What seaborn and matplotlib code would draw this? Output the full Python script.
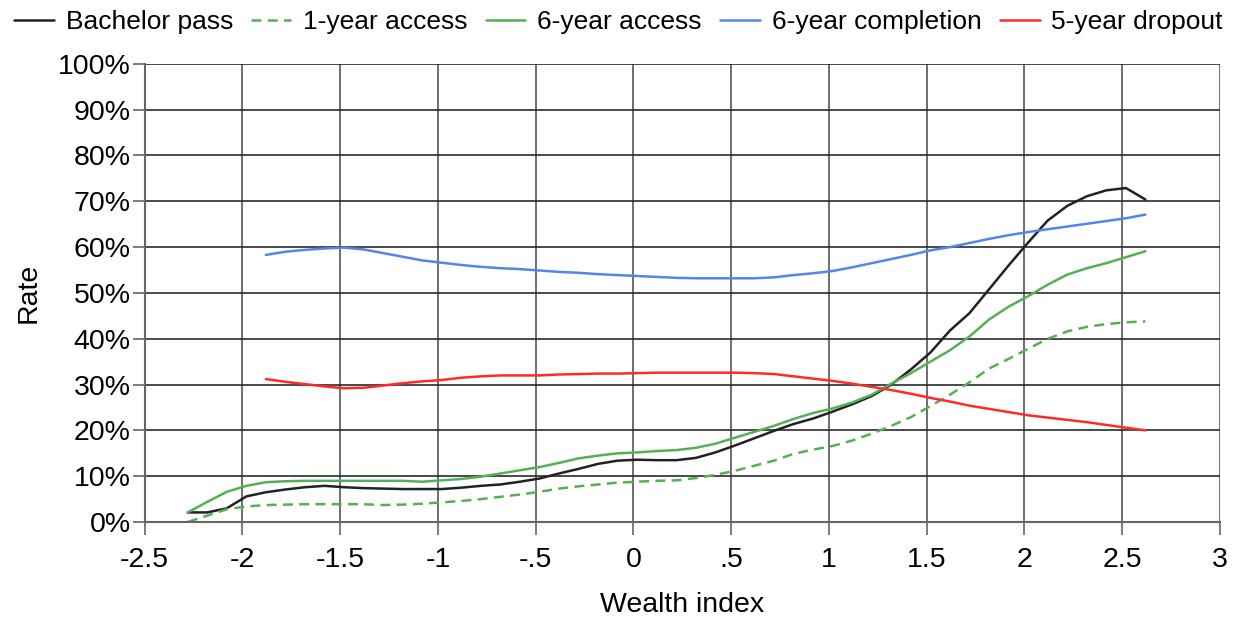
import numpy as np
import pandas as pd
import matplotlib
matplotlib.use("Agg")
import matplotlib.pyplot as plt
import seaborn as sns

# wealth index grid (0.1 steps)
wealth = [-2.28, -2.18, -2.08, -1.98, -1.88, -1.78, -1.68, -1.58, -1.48, -1.38,
          -1.28, -1.18, -1.08, -0.98, -0.88, -0.78, -0.68, -0.58, -0.48, -0.38,
          -0.28, -0.18, -0.08, 0.02, 0.12, 0.22, 0.32, 0.42, 0.52, 0.62,
          0.72, 0.82, 0.92, 1.02, 1.12, 1.22, 1.32, 1.42, 1.52, 1.62,
          1.72, 1.82, 1.92, 2.02, 2.12, 2.22, 2.32, 2.42, 2.52, 2.62]

bachelor_pass = [2.1, 2.1, 3.0, 5.6, 6.5, 7.1, 7.6, 7.9, 7.6, 7.4,
                 7.3, 7.2, 7.2, 7.2, 7.5, 7.9, 8.2, 8.8, 9.5, 10.6,
                 11.6, 12.7, 13.4, 13.6, 13.5, 13.5, 14.0, 15.2, 16.7, 18.3,
                 19.9, 21.4, 22.6, 24.1, 25.7, 27.5, 30.0, 33.3, 37.0, 41.8,
                 45.6, 50.8, 56.0, 61.0, 65.8, 69.0, 71.1, 72.4, 72.9, 70.4]

access_1y = [0.0, 1.4, 2.8, 3.4, 3.7, 3.8, 3.9, 3.9, 3.9, 3.9,
             3.7, 3.8, 4.0, 4.3, 4.6, 5.0, 5.5, 6.0, 6.6, 7.3,
             7.8, 8.2, 8.6, 8.8, 9.0, 9.1, 9.6, 10.3, 11.2, 12.3,
             13.4, 14.9, 15.8, 16.6, 17.8, 19.3, 21.0, 22.9, 25.3, 27.8,
             30.5, 33.5, 35.6, 37.8, 40.0, 41.6, 42.6, 43.2, 43.6, 43.8]

access_6y = [2.1, 4.4, 6.6, 7.9, 8.7, 8.9, 9.0, 9.0, 9.0, 9.0,
             9.0, 9.0, 8.8, 9.1, 9.4, 9.9, 10.6, 11.3, 12.0, 12.9,
             13.9, 14.5, 15.0, 15.2, 15.5, 15.7, 16.2, 17.1, 18.4, 19.7,
             21.0, 22.5, 23.8, 24.8, 26.1, 27.8, 30.2, 32.5, 35.0, 37.5,
             40.5, 44.2, 47.0, 49.3, 51.8, 54.0, 55.4, 56.5, 57.8, 59.1]

nan = np.nan
completion_6y = [nan, nan, nan, nan, 58.3, 59.0, 59.4, 59.7, 59.9, 59.5,
                 58.7, 57.9, 57.1, 56.6, 56.1, 55.7, 55.4, 55.2, 54.9, 54.6,
                 54.4, 54.1, 53.9, 53.7, 53.5, 53.3, 53.2, 53.2, 53.2, 53.2,
                 53.4, 53.9, 54.3, 54.8, 55.6, 56.5, 57.4, 58.3, 59.3, 60.0,
                 60.9, 61.8, 62.6, 63.3, 63.9, 64.5, 65.1, 65.7, 66.3, 67.1]

dropout_5y = [nan, nan, nan, nan, 31.2, 30.6, 30.1, 29.6, 29.2, 29.3,
              29.8, 30.3, 30.7, 31.0, 31.5, 31.8, 32.0, 32.0, 32.0, 32.2,
              32.3, 32.4, 32.4, 32.5, 32.6, 32.6, 32.6, 32.6, 32.6, 32.5,
              32.3, 31.8, 31.3, 30.8, 30.2, 29.5, 28.8, 28.0, 27.1, 26.3,
              25.4, 24.7, 24.0, 23.3, 22.8, 22.3, 21.8, 21.2, 20.6, 20.0]

x_ticks = [-2.5, -2, -1.5, -1, -0.5, 0, 0.5, 1, 1.5, 2, 2.5, 3]
x_tick_labels = ["-2.5", "-2", "-1.5", "-1", "-.5", "0", ".5", "1", "1.5", "2", "2.5", "3"]
y_ticks = list(range(0, 101, 10))

df = pd.DataFrame({
    "wealth": wealth,
    "Bachelor pass": bachelor_pass,
    "1-year access": access_1y,
    "6-year access": access_6y,
    "6-year completion": completion_6y,
    "5-year dropout": dropout_5y,
})

sns.set_style("white")
plt.rcParams["font.family"] = ["Liberation Sans", "DejaVu Sans"]
plt.rcParams["text.color"] = "black"
plt.rcParams["axes.labelcolor"] = "black"
plt.rcParams["xtick.labelcolor"] = "black"
plt.rcParams["ytick.labelcolor"] = "black"

fig, ax = plt.subplots(figsize=(12.37, 6.2), dpi=100)
fig.subplots_adjust(left=0.117, right=0.986, bottom=0.158, top=0.897)

series = [
    ("Bachelor pass", "#222222", "-"),
    ("1-year access", "#55b055", "--"),
    ("6-year access", "#55b055", "-"),
    ("6-year completion", "#5585e8", "-"),
    ("5-year dropout", "#ff2a2a", "-"),
]
for name, col, ls in series:
    sns.lineplot(data=df, x="wealth", y=name, ax=ax, color=col, linewidth=1.8,
                 linestyle=ls, label=name)
    if ls == "--":
        ax.lines[-1].set_dashes([4, 2.5])

ax.set_xlim(-2.5, 3)
ax.set_ylim(0, 100)
ax.set_xticks(x_ticks)
ax.set_xticklabels(x_tick_labels)
ax.set_yticks(y_ticks)
ax.set_yticklabels([f"{v}%" for v in y_ticks])

ax.grid(axis="y", color="#2a2a2a", linewidth=1.2)
ax.grid(axis="x", color="#555555", linewidth=1.2)
ax.set_axisbelow(True)
for s in ["top", "right"]:
    ax.spines[s].set_visible(False)
for s in ["left", "bottom"]:
    ax.spines[s].set_color("#666666")
    ax.spines[s].set_linewidth(1.5)
ax.tick_params(axis="both", which="major", labelsize=20.5, length=9, width=1.2,
               color="#666666", direction="out", bottom=True, left=True)
ax.tick_params(axis="x", pad=9)
ax.tick_params(axis="y", pad=1)

ax.set_xlabel("Wealth index", fontsize=20.5, labelpad=14)
ax.set_ylabel("Rate", fontsize=20.5, labelpad=12)

handles, labels = ax.get_legend_handles_labels()
ax.get_legend().remove()
leg = fig.legend(handles, labels, loc="upper center", bbox_to_anchor=(0.5, 1.015),
                 ncol=5, fontsize=19, frameon=True, facecolor="white", edgecolor="none",
                 framealpha=1, handlelength=1.5, handletextpad=0.45, columnspacing=0.7,
                 borderpad=0.25)

fig.savefig("out.png", dpi=100)
